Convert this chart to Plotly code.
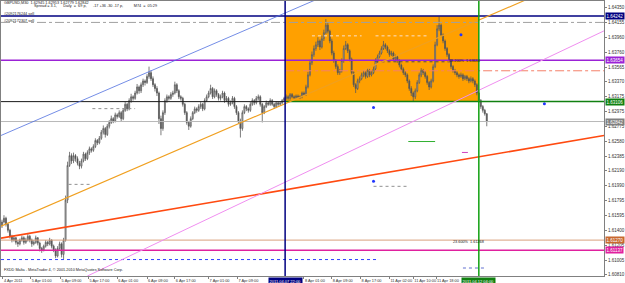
import plotly.graph_objects as go

# ---------------- data (prices expressed as pips above BASE) ----------------
BASE = 1.6
PIP = 0.0001

bar_open = [146,151,156,148,140,132,127,130,124,122,
 127,130,124,127,132,127,122,124,130,123,
 116,114,119,124,122,127,119,114,106,116,
 122,108,127,180,226,239,232,239,235,229,
 225,232,241,235,243,248,246,251,259,256,
 262,270,275,267,278,283,288,285,293,291,
 296,288,299,307,301,312,317,315,322,330,
 325,333,338,336,344,349,341,333,328,322,
 288,275,296,312,317,315,320,322,333,325,
 317,315,307,296,283,278,288,296,301,299,
 304,307,301,312,317,322,328,317,325,320,
 315,317,322,312,315,307,309,315,304,296,
 285,275,296,304,301,299,307,312,309,315,
 317,307,296,304,309,307,312,307,304,309,
 307,309,312,315,317,315,320,317,316,318,
 317,317,322,320,330,346,362,373,381,386,
 391,383,394,402,412,404,391,375,365,357,
 349,351,365,381,386,378,367,349,333,328,
 338,341,346,349,344,352,346,349,354,365,
 370,375,381,386,383,378,373,375,367,370,
 365,359,354,349,346,338,328,322,317,325,
 336,346,352,349,344,336,330,338,357,386,
 407,412,399,391,381,373,365,357,352,349,
 346,344,346,341,344,341,338,341,338,333,
 322,312,304,299,294.5]

bar_high = [154,160,158,150,142,134,133,131,127,129,
 133,132,130,135,134,129,127,133,131,125,
 118,121,127,126,130,128,121,116,119,125,
 124,130,186,231,244,242,243,241,238,232,
 235,244,243,246,251,250,254,262,261,265,
 273,279,277,281,286,292,290,296,295,299,
 298,302,310,309,315,321,319,325,334,332,
 336,341,340,347,357,352,344,335,331,324,
 292,299,315,320,319,323,325,337,335,327,
 319,317,309,298,285,291,298,304,303,307,
 310,309,315,320,325,333,330,328,327,322,
 320,325,324,318,317,312,318,317,306,298,
 288,299,307,306,303,310,315,314,318,320,
 319,309,306,312,311,315,314,309,311,311,
 311,314,317,320,319,322,322,319,320,320,
 319,324,324,333,350,366,377,385,390,396,
 393,398,406,420,416,406,394,378,367,360,
 354,368,385,391,388,380,369,351,335,341,
 344,349,352,351,355,354,352,357,368,373,
 378,384,391,388,385,380,378,377,373,372,
 367,361,356,351,348,340,331,324,328,339,
 349,355,354,351,346,338,341,360,390,412,
 423,414,401,393,383,375,367,359,354,351,
 348,349,348,346,346,343,344,343,340,335,
 324,314,306,301,295.3]

bar_low = [143,149,145,137,129,124,125,121,118,120,
 125,121,122,125,124,118,120,122,120,112,
 110,112,117,119,120,116,111,103,104,114,
 104,102,125,176,224,228,229,231,226,221,
 222,230,232,233,240,243,244,249,253,254,
 260,267,263,265,275,281,282,283,288,289,
 284,286,297,298,299,309,312,313,320,321,
 322,330,332,334,341,338,330,324,318,281,
 266,272,293,309,312,313,317,320,322,314,
 312,304,293,280,273,276,286,294,296,297,
 301,298,299,310,315,320,314,315,317,312,
 312,315,309,310,304,305,307,301,293,281,
 263,272,294,298,296,297,305,306,307,312,
 304,283,294,302,305,305,305,301,302,304,
 305,307,310,313,313,313,315,314,314,315,
 314,315,318,318,328,344,359,370,378,383,
 379,381,391,400,401,388,372,362,354,346,
 346,349,362,379,375,364,346,330,322,326,
 335,339,343,341,342,343,344,347,352,362,
 368,373,379,380,375,370,371,364,365,362,
 356,351,346,343,335,325,318,311,314,323,
 334,343,346,341,333,326,328,336,355,384,
 404,396,388,378,370,362,354,349,346,343,
 341,342,338,339,338,335,336,335,330,319,
 309,301,296,292,277.9]

bar_close = [151,156,148,140,132,127,130,124,122,127,
 130,124,127,132,127,122,124,130,123,116,
 114,119,124,122,127,119,114,106,116,122,
 108,127,180,226,239,232,239,235,229,225,
 232,241,235,243,248,246,251,259,256,262,
 270,275,267,278,283,288,285,293,291,296,
 288,299,307,301,312,317,315,322,330,325,
 333,338,336,344,349,341,333,328,322,288,
 275,296,312,317,315,320,322,333,325,317,
 315,307,296,283,278,288,296,301,299,304,
 307,301,312,317,322,328,317,325,320,315,
 317,322,312,315,307,309,315,304,296,285,
 275,296,304,301,299,307,312,309,315,317,
 307,296,304,309,307,312,307,304,309,307,
 309,312,315,317,315,320,317,316,318,317,
 317,322,320,330,346,362,373,381,386,391,
 383,394,402,412,404,391,375,365,357,349,
 351,365,381,386,378,367,349,333,328,338,
 341,346,349,344,352,346,349,354,365,370,
 375,381,386,383,378,373,375,367,370,365,
 359,354,349,346,338,328,322,317,325,336,
 346,352,349,344,336,330,338,357,386,407,
 412,399,391,381,373,365,357,352,349,346,
 344,346,341,344,341,338,341,338,333,322,
 312,304,299,294.5,284.2]

time_tick_bars = [0.5, 14.5, 29.5, 43.5, 58, 73, 87, 104, 118.5, 152, 166, 180.5, 195, 207, 218.5]
time_tick_labels = ["4 Apr 2011", "5 Apr 01:00", "5 Apr 09:00", "5 Apr 17:00", "6 Apr 01:00",
                    "6 Apr 09:00", "6 Apr 17:00", "7 Apr 01:00", "7 Apr 09:00", "8 Apr 01:00",
                    "8 Apr 09:00", "8 Apr 17:00", "11 Apr 02:00", "11 Apr 10:00", "11 Apr 18:00"]

price_ticks = [1.64350, 1.64155, 1.63960, 1.63760, 1.63565, 1.63370, 1.63175, 1.62975, 1.62775,
               1.62580, 1.62385, 1.62190, 1.61990, 1.61795, 1.61595, 1.61400, 1.61205, 1.61005, 1.60810]

# horizontal levels
level_order_1 = 1.64242
level_order_2 = 1.64156
level_purple = 1.63654
level_salmon = 1.63515
level_green = 1.63106
level_current = 1.62842
level_tan = 1.61270
level_magenta = 1.61137
level_blue_dot = 1.61012

# vertical lines (bar index)
vline_start_bar = 142.5
vline_end_bar = 240
vline_start_label = "2011.04.07 22:00"
vline_end_label = "2011.04.12 04:00"

# trend lines: (bar, price) pairs
trend_orange = [(-0.5, 1.61455), (303, 1.64902)]
trend_blue = [(-0.5, 1.62657), (303, 1.66104)]
trend_red = [(-0.5, 1.61296), (303, 1.62657)]
trend_pink = [(43, 1.60794), (303, 1.64044)]

# short segments: bar from, bar to, price
seg_gray_dot = [(33.5, 44.5, 1.62009), (45.5, 67, 1.63013), (187, 204.5, 1.61983)]
seg_dark_dot = [(188, 224.5, 1.63634)]
seg_light_dot = [(156, 181, 1.63978), (188, 214.5, 1.63978)]
seg_green = [(204.5, 218, 1.62577)]
seg_magenta = [(231.5, 234.5, 1.62432)]
seg_blue_dot = [(232, 243, 1.60900)]

marker_bars = [187, 231, 273, 187]
marker_prices = [1.63027, 1.63991, 1.63079, 1.62049]

X_MAX = 303
Y_MIN, Y_MAX = 1.60794, 1.64440

to_price = lambda arr: [round(BASE + v * PIP, 5) for v in arr]
bars = list(range(len(bar_close)))

FONT = "Liberation Sans, Arial, sans-serif"

fig = go.Figure()
fig.add_trace(go.Candlestick(
    x=bars, open=to_price(bar_open), high=to_price(bar_high),
    low=to_price(bar_low), close=to_price(bar_close),
    increasing=dict(line=dict(color="#5a5a5a", width=0.8), fillcolor="#d0d0d0"),
    decreasing=dict(line=dict(color="#5a5a5a", width=0.8), fillcolor="#404040"),
    whiskerwidth=0, showlegend=False, hoverinfo="skip"))

fig.add_trace(go.Scatter(x=marker_bars, y=marker_prices, mode="markers",
                         marker=dict(color="#2035ff", size=3), showlegend=False, hoverinfo="skip"))

# box
fig.add_shape(type="rect", xref="x", yref="y", x0=vline_start_bar, x1=vline_end_bar,
              y0=level_green, y1=level_order_1, fillcolor="#FFA000", line=dict(width=0), layer="below")

def hline(y, color, width=1, dash="solid", x0=None, x1=None):
    if x0 is None:
        fig.add_shape(type="line", xref="paper", yref="y", x0=0, x1=1, y0=y, y1=y,
                      line=dict(color=color, width=width, dash=dash))
    else:
        fig.add_shape(type="line", xref="x", yref="y", x0=x0, x1=x1, y0=y, y1=y,
                      line=dict(color=color, width=width, dash=dash))

hline(level_order_1, "#000080", 1.5)
hline(level_order_2, "#a0a0a0", 1, "dashdot")
hline(level_purple, "#9b22d6", 1.6)
hline(level_salmon, "#f4806a", 1, "dashdot", vline_start_bar, X_MAX)
hline(level_green, "#1a1a1a", 1, "solid", -0.5, vline_start_bar)
hline(level_green, "#108010", 1.5, "solid", vline_start_bar, X_MAX)
hline(level_current, "#b8b8b8", 1)
hline(level_tan, "#d9a07c", 1)
hline(level_magenta, "#e0209e", 1.5)
hline(level_blue_dot, "#3040ff", 1, "dot", -0.5, 189.5)

for a, b, p in seg_gray_dot:
    hline(p, "#909090", 1, "dot", a, b)
for a, b, p in seg_dark_dot:
    hline(p, "#505050", 1, "dot", a, b)
for a, b, p in seg_light_dot:
    hline(p, "#fbe0c8", 1, "dot", a, b)
for a, b, p in seg_green:
    hline(p, "#30b030", 1, "solid", a, b)
for a, b, p in seg_magenta:
    hline(p, "#d040c0", 1, "solid", a, b)
for a, b, p in seg_blue_dot:
    hline(p, "#6070d0", 1, "dot", a, b)

def tline(pts, color, width):
    (xa, ya), (xb, yb) = pts
    fig.add_shape(type="line", xref="x", yref="y", x0=xa, y0=ya, x1=xb, y1=yb,
                  line=dict(color=color, width=width))

tline(trend_orange, "#f0a020", 1.1)
tline(trend_blue, "#5070e0", 0.8)
tline(trend_red, "#ff4a10", 1.6)
tline(trend_pink, "#f08ef0", 1)

# vertical lines
fig.add_shape(type="line", xref="x", yref="paper", x0=vline_start_bar, x1=vline_start_bar, y0=0, y1=1,
              line=dict(color="#000080", width=1.5))
fig.add_shape(type="line", xref="x", yref="paper", x0=vline_end_bar, x1=vline_end_bar, y0=0, y1=1,
              line=dict(color="#10a010", width=1.5))

# price highlight labels
for lvl, col in [(level_order_1, "#000080"), (level_purple, "#9b22d6"), (level_green, "#108010"),
                 (level_current, "#808080"), (level_tan, "#c8682f"), (level_magenta, "#e0209e")]:
    fig.add_annotation(xref="paper", yref="y", x=1, y=lvl, xanchor="left", yanchor="middle",
                       xshift=1, text=f"{lvl:.5f}", showarrow=False, bgcolor=col, borderpad=0.5,
                       font=dict(family=FONT, size=4.5, color="white"))

# time highlight labels
for bx, lab, col in [(vline_start_bar, vline_start_label, "#000080"), (vline_end_bar, vline_end_label, "#108010")]:
    fig.add_annotation(xref="x", yref="paper", x=bx, y=0, xanchor="center", yanchor="top",
                       yshift=-1, text=lab, showarrow=False, bgcolor=col, borderpad=0.5,
                       font=dict(family=FONT, size=4.0, color="white"))

NB = "\u00a0"
def ptext(px, py, txt, color="#202020", size=3.8):
    fig.add_annotation(xref="paper", yref="paper", x=px / 607, y=1 - py / 276, xanchor="left",
                       yanchor="middle", text=txt.replace(" ", NB), showarrow=False,
                       font=dict(family=FONT, size=size, color=color))

ptext(1, 2, "GBPUSD,M30  1.62945 1.62953 1.62779 1.62842")
ptext(31, 5.5, "Spread = 3.1,      Daily  =  69 p,      -17 +36 -30 -17 p,          M74  =  05:29")
ptext(1, 13.5, "#2092176244 sell")
ptext(1, 20, "#2092172307 sell")
ptext(1, 270, "FXDD Malta - MetaTrader 4, © 2001-2010 MetaQuotes Software Corp.")
ptext(449, 60, "38.200%  1.63634")
ptext(453, 242, "23.600%  1.61268")

fig.update_layout(
    width=625, height=283, margin=dict(l=0, r=18, t=0, b=7),
    paper_bgcolor="white", plot_bgcolor="white",
    xaxis=dict(range=[-0.5, X_MAX], showgrid=False, zeroline=False, rangeslider=dict(visible=False),
               tickmode="array", tickvals=time_tick_bars, ticktext=time_tick_labels, tickangle=0,
               ticklabelposition="outside right", ticks="outside", ticklen=2, tickcolor="#808080",
               tickfont=dict(family=FONT, size=3.9, color="#303030"),
               showline=True, linecolor="#808080", linewidth=1, mirror=True),
    yaxis=dict(range=[Y_MIN, Y_MAX], side="right", showgrid=False, zeroline=False,
               tickmode="array", tickvals=price_ticks, ticktext=[f"{v:.5f}" for v in price_ticks],
               ticks="outside", ticklen=2, tickcolor="#808080",
               tickfont=dict(family=FONT, size=4.5, color="#303030"),
               showline=True, linecolor="#808080", linewidth=1, mirror=True),
)

fig.write_html("out.html")
